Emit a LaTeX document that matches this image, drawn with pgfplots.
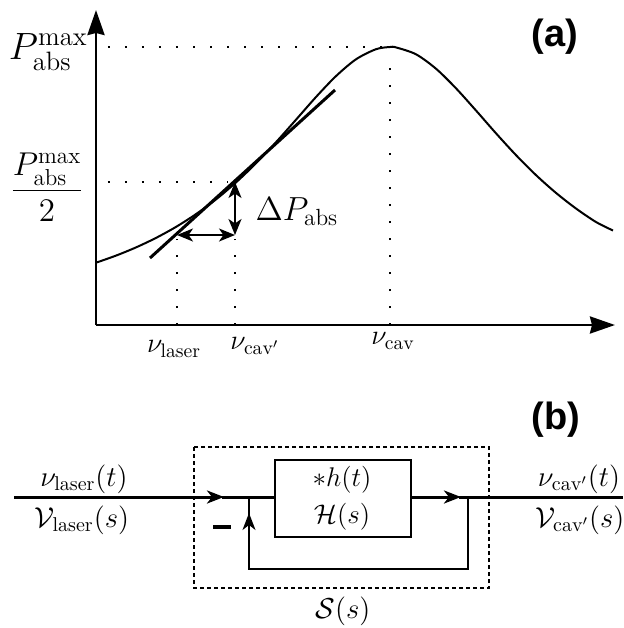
\RequirePackage{fix-cm}
\documentclass[border=0pt]{standalone}
\usepackage{amsmath}
\usepackage{fontspec}
\usepackage{pgfplots}
\pgfplotsset{compat=1.18}
\usetikzlibrary{arrows.meta}
\newfontfamily\panelfont{Liberation Sans}
\newcommand{\fs}[1]{\fontsize{#1}{#1}\selectfont}
\tikzset{
  head/.tip={Stealth[width=6.5pt,length=8.5pt,inset=2.5pt]},
  small head/.tip={Stealth[width=6.5pt,length=8pt,inset=2.2pt]},
}

\begin{document}
\begin{tikzpicture}
% ---------- (a) absorbed power versus frequency ----------
\begin{axis}[
  at={(48pt,-162.5pt)}, anchor=south west,
  scale only axis, width=259.5pt, height=157.5pt,
  xmin=0, xmax=519, ymin=0, ymax=315,
  axis lines=left, xtick=\empty, ytick=\empty,
  axis line style={line width=1.35pt,-{Stealth[inset=1pt,width=8.5pt,length=12.5pt]}},
  clip=false,
]
% absorption line
\addplot[line width=1pt, smooth] coordinates {
  (0,62.3) (20,69.4) (40,77.6) (60,87.1) (80,98.1) (100,110.9)
  (120,125.6) (140,142.6) (160,161.7) (180,182.8) (200,205.3)
  (220,228.0) (240,248.9) (260,265.7) (280,275.8) (294,278)
  (300,277.6) (320,270.7) (340,256.3) (360,236.7) (380,214.5)
  (400,191.7) (420,169.9) (440,149.9) (460,132.1) (480,116.5)
  (500,103.0) (517,94.5)
};
% tangent at the half-maximum point
\addplot[line width=1.5pt] coordinates {(54,67) (239,235)};
% guide lines
\addplot[line width=1pt, dash pattern=on 1pt off 7.5pt] coordinates {(12,278) (294,278)};
\addplot[line width=1pt, dash pattern=on 1pt off 7.5pt] coordinates {(294,0) (294,270)};
\addplot[line width=1pt, dash pattern=on 1pt off 7.5pt] coordinates {(12,143) (132,143)};
\addplot[line width=1pt, dash pattern=on 1pt off 7.5pt] coordinates {(139,0) (139,86)};
\addplot[line width=1pt, dash pattern=on 1pt off 7.5pt] coordinates {(81,0) (81,86)};
% detuning and power change
\draw[line width=1pt,{small head}-{small head}] (axis cs:81,90) -- (axis cs:139,90);
\draw[line width=1pt,{small head}-{small head}] (axis cs:139,143) -- (axis cs:139,90);
\end{axis}

\begin{scope}[x=0.5pt,y=-0.5pt]
\path[use as bounding box] (0,0) rectangle (623,628);

\node[anchor=east,inner sep=0pt] at (88,52) {\fs{19}$P_{\mathrm{abs}}^{\max}$};
\node[anchor=east,inner sep=0pt] at (84,187) {\fs{16.5}$\dfrac{P_{\mathrm{abs}}^{\max}}{2}$};
\node[inner sep=0pt] at (174,349) {\fs{14}$\nu_{\mathrm{laser}}$};
\node[inner sep=0pt] at (255,346) {\fs{14}$\nu_{\mathrm{cav'}}$};
\node[inner sep=0pt] at (393,341) {\fs{14}$\nu_{\mathrm{cav}}$};
\node[inner sep=0pt] at (297,212) {\fs{16.7}$\Delta P_{\mathrm{abs}}$};
\node[inner sep=0pt] at (555,37) {\panelfont\bfseries\fs{19}(a)};

% ---------- (b) feedback loop ----------
\node[inner sep=0pt] at (556,420) {\panelfont\bfseries\fs{19}(b)};
\draw[line width=1.35pt, dash pattern=on 2pt off 1.5pt] (194,447) rectangle (489,588);
\draw[line width=0.8pt] (275,460) rectangle (411,537);
\draw[line width=1.5pt,-head] (14,497) -- (224,497);
\draw[line width=1.5pt] (222,497) -- (275,497);
\draw[line width=1.5pt,-head] (411,497) -- (461,497);
\draw[line width=1.5pt] (459,497) -- (623,497);
\draw[line width=0.8pt] (468,497) -- (468,569) -- (249,569) -- (249,540);
\draw[line width=0.8pt,-head] (249,541) -- (249,513);
\draw[line width=0.8pt] (249,515) -- (249,497);
\draw[line width=2.2pt] (213,527) -- (231,527);

\node[inner sep=0pt] at (84,479) {\fs{14.4}$\nu_{\mathrm{laser}}(t)$};
\node[inner sep=0pt] at (82,520) {\fs{14.4}$\mathcal{V}_{\mathrm{laser}}(s)$};
\node[inner sep=0pt] at (342,480) {\fs{13.5}$*h(t)$};
\node[inner sep=0pt] at (342,517) {\fs{13.5}$\mathcal{H}(s)$};
\node[inner sep=0pt] at (579,479) {\fs{14.4}$\nu_{\mathrm{cav'}}(t)$};
\node[inner sep=0pt] at (580,520) {\fs{14.4}$\mathcal{V}_{\mathrm{cav'}}(s)$};
\node[inner sep=0pt] at (343,611) {\fs{14.4}$\mathcal{S}(s)$};
\end{scope}
\end{tikzpicture}
\end{document}
